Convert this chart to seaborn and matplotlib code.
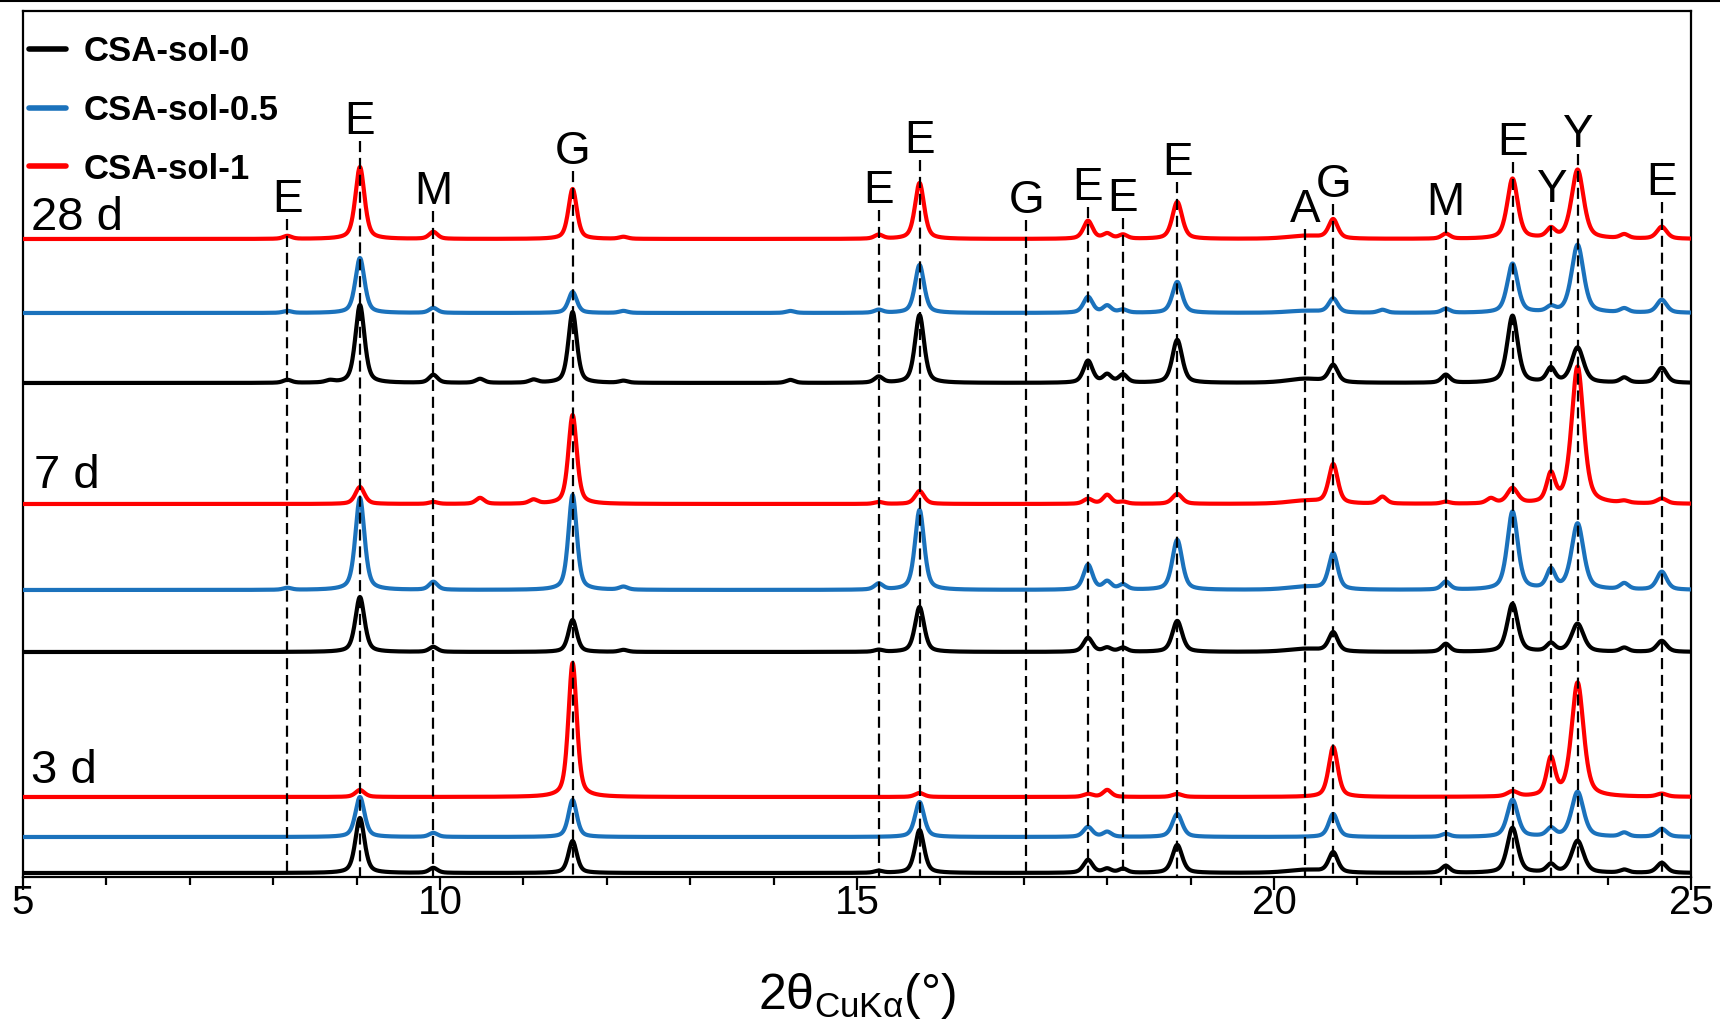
import numpy as np
import pandas as pd
import matplotlib
matplotlib.use("Agg")
import matplotlib.pyplot as plt
import seaborn as sns

# ---- peak table: positions (2theta, deg) and FWHM (deg) shared by all patterns ----
peak_pos = [8.17, 8.68, 9.04, 9.92, 10.48, 11.12, 11.59, 12.2, 14.2, 15.26, 15.75,
            17.77, 18.0, 18.19, 18.84, 20.37, 20.71, 21.3, 22.06, 22.6, 22.86,
            23.32, 23.64, 24.2, 24.65]
peak_fwhm = [0.12, 0.12, 0.13, 0.12, 0.12, 0.12, 0.12, 0.12, 0.12, 0.12, 0.13,
             0.13, 0.12, 0.12, 0.14, 0.50, 0.13, 0.12, 0.12, 0.12, 0.15,
             0.12, 0.17, 0.12, 0.14]

# ---- peak intensities (a.u.) for every sample / age ----
#                 8.17 8.68 9.04 9.92 10.48 11.12 11.59 12.2 14.2 15.26 15.75 17.77 18.0 18.19 18.84 20.37 20.71 21.3 22.06 22.6 22.86 23.32 23.64 24.2 24.65
sol0_28d   = [3, 2, 78, 8, 4, 3, 71, 2, 3, 6, 68, 22, 8, 8, 43, 4, 17, 0, 8, 0, 67, 14, 35, 5, 15]
sol05_28d  = [2, 0, 55, 5, 0, 0, 21, 2, 2, 3, 48, 16, 7, 3, 31, 2, 14, 3, 4, 0, 49, 5, 68, 4, 13]
sol1_28d   = [3, 0, 72, 7, 0, 0, 50, 2, 0, 4, 56, 18, 5, 4, 37, 3, 19, 0, 5, 0, 60, 9, 69, 4, 12]
sol0_7d    = [0, 0, 55, 5, 0, 0, 32, 2, 0, 2, 45, 14, 4, 4, 31, 3, 19, 0, 8, 0, 48, 8, 28, 4, 11]
sol05_7d   = [2, 0, 92, 8, 0, 0, 95, 3, 0, 6, 80, 25, 8, 5, 50, 3, 36, 0, 8, 0, 78, 19, 66, 6, 18]
sol1_7d    = [0, 0, 17, 2, 6, 4, 89, 0, 0, 2, 13, 5, 9, 2, 10, 3, 39, 7, 2, 5, 15, 28, 137, 2, 5]
sol0_3d    = [0, 0, 55, 5, 0, 0, 32, 0, 0, 2, 43, 13, 4, 4, 28, 3, 20, 0, 7, 0, 45, 8, 32, 3, 10]
sol05_3d   = [0, 0, 40, 4, 0, 0, 37, 0, 0, 0, 35, 10, 5, 0, 23, 0, 23, 0, 3, 0, 37, 8, 45, 4, 8]
sol1_3d    = [0, 0, 7, 0, 0, 0, 134, 0, 0, 0, 4, 3, 7, 0, 3, 0, 50, 0, 0, 0, 5, 37, 114, 0, 3]

samples = ["CSA-sol-0", "CSA-sol-0.5", "CSA-sol-1"]
ages = ["28 d", "7 d", "3 d"]
patterns = {
    ("28 d", "CSA-sol-0"): sol0_28d, ("28 d", "CSA-sol-0.5"): sol05_28d, ("28 d", "CSA-sol-1"): sol1_28d,
    ("7 d", "CSA-sol-0"): sol0_7d, ("7 d", "CSA-sol-0.5"): sol05_7d, ("7 d", "CSA-sol-1"): sol1_7d,
    ("3 d", "CSA-sol-0"): sol0_3d, ("3 d", "CSA-sol-0.5"): sol05_3d, ("3 d", "CSA-sol-1"): sol1_3d,
}
# vertical stacking offsets of each pattern
offsets = {
    ("28 d", "CSA-sol-1"): 638, ("28 d", "CSA-sol-0.5"): 564, ("28 d", "CSA-sol-0"): 494,
    ("7 d", "CSA-sol-1"): 373, ("7 d", "CSA-sol-0.5"): 287, ("7 d", "CSA-sol-0"): 225,
    ("3 d", "CSA-sol-1"): 80, ("3 d", "CSA-sol-0.5"): 40, ("3 d", "CSA-sol-0"): 4,
}

# phase markers
phase_pos = [8.17, 9.04, 9.92, 11.59, 15.26, 15.75, 17.03, 17.77, 18.19, 18.84,
             20.37, 20.71, 22.06, 22.86, 23.32, 23.64, 24.65]
phase_lbl = ["E", "E", "M", "G", "E", "E", "G", "E", "E", "E",
             "A", "G", "M", "E", "Y", "Y", "E"]
phase_lbl_y = [665, 743, 673, 713, 674, 724, 664, 677, 666, 702,
               655, 680, 662, 722, 675, 730, 682]

colors = {"CSA-sol-0": "#000000", "CSA-sol-0.5": "#1B72BC", "CSA-sol-1": "#FF0000"}

sns.set_style("white")
plt.rcParams["font.family"] = ["Liberation Sans", "DejaVu Sans"]
plt.rcParams["mathtext.fontset"] = "custom"
plt.rcParams["mathtext.rm"] = "Liberation Sans"
plt.rcParams["text.color"] = "black"
plt.rcParams["axes.labelcolor"] = "black"
plt.rcParams["xtick.color"] = "black"


def pseudo_voigt(x, c, h, w, eta=0.5):
    d2 = (x - c) ** 2 / w ** 2
    return h * (eta / (1 + 4 * d2) + (1 - eta) * np.exp(-4 * np.log(2) * d2))


tt = np.linspace(5, 25, 4001)
frames = []
for (age, smp), heights in patterns.items():
    y = np.zeros_like(tt)
    for c, w, h in zip(peak_pos, peak_fwhm, heights):
        if h:
            y += pseudo_voigt(tt, c, h, w)
    frames.append(pd.DataFrame({"2theta": tt, "intensity": y + offsets[(age, smp)],
                                "sample": smp, "age": age}))
df = pd.concat(frames, ignore_index=True)

fig = plt.figure(figsize=(17.2, 10.25), dpi=100)
ax = fig.add_axes([23 / 1720, 1 - 877 / 1025, 1668 / 1720, 866 / 1025])
# thin rule along the top edge of the figure
fig.add_artist(plt.Line2D([0, 1], [0.999, 0.999], transform=fig.transFigure,
                          color="black", lw=1.5))

for z, smp in enumerate(samples):
    for age in ages:
        sub = df[(df["sample"] == smp) & (df["age"] == age)]
        sns.lineplot(data=sub, x="2theta", y="intensity", ax=ax, color=colors[smp],
                     lw=3.0, estimator=None, sort=False, zorder=2 + z,
                     label=smp if age == "28 d" else None, legend=False)

# dashed reference lines with phase letters
for xp, lb, ly in zip(phase_pos, phase_lbl, phase_lbl_y):
    ax.plot([xp, xp], [ly - 7, 0], color="black", lw=1.6, dashes=(5, 2.6), zorder=6)
    ax.text(xp, ly, lb, ha="center", va="baseline", fontsize=33, zorder=7)

# curing-age labels
for xt, yt, t in [(5.09, 647, "28 d"), (5.13, 389, "7 d"), (5.09, 94, "3 d")]:
    ax.text(xt, yt, t, ha="left", va="baseline", fontsize=34)

ax.set_xlim(5, 25)
ax.set_ylim(0, 866)
ax.set_yticks([])
ax.set_ylabel("")
ax.set_xticks([5, 10, 15, 20, 25])
ax.set_xticks(np.arange(5, 26, 1), minor=True)
ax.tick_params(axis="x", which="both", bottom=True, top=False)
ax.tick_params(axis="x", which="major", direction="out", length=9, width=1.6,
               labelsize=29, pad=-4)
ax.tick_params(axis="x", which="minor", direction="out", length=5.5, width=1.6)
ax.set_xlabel("2θ$_\\mathregular{CuKα}$(°)", fontsize=36, labelpad=35)
for sp in ax.spines.values():
    sp.set_visible(True)
    sp.set_linewidth(1.6)
    sp.set_color("black")

handles = [plt.Line2D([], [], color=colors[s], lw=4) for s in samples]
ax.legend(handles, samples, loc="upper left", bbox_to_anchor=(0.0036, 0.972),
          frameon=False, borderpad=0, borderaxespad=0, handlelength=1.07,
          handletextpad=0.49, labelspacing=0.74,
          prop={"family": "Liberation Sans", "weight": "bold", "size": 25})

fig.savefig("out.png", dpi=100)
